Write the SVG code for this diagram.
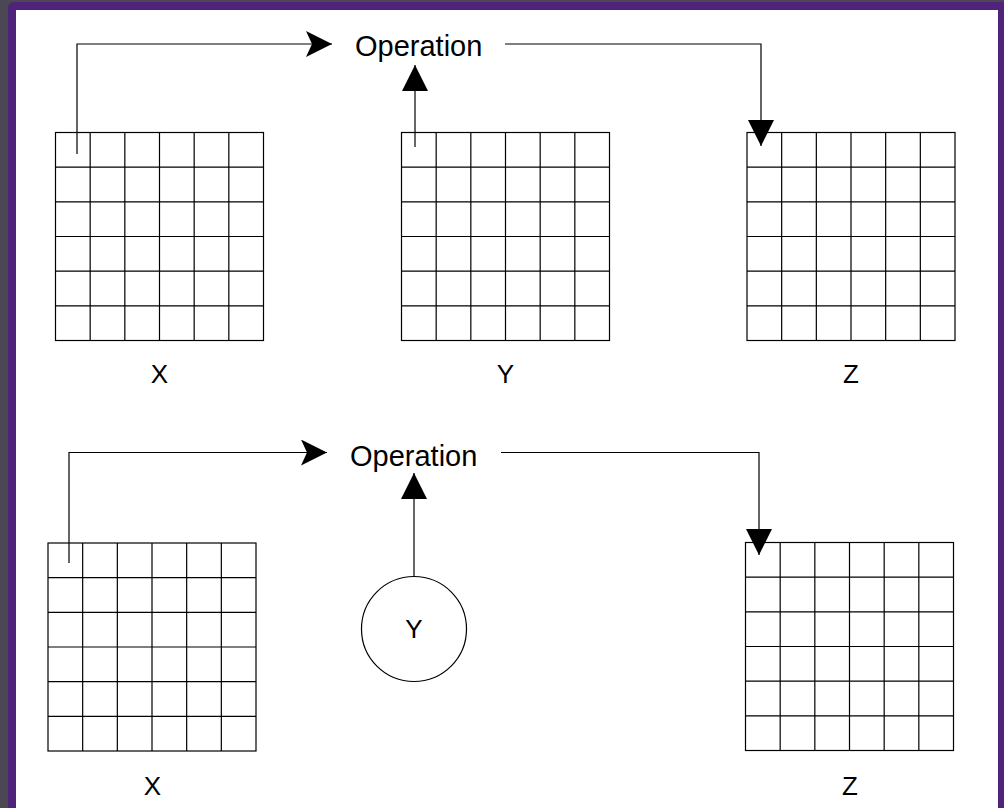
<svg xmlns="http://www.w3.org/2000/svg" xmlns:xlink="http://www.w3.org/1999/xlink" width="1004" height="808" viewBox="0 0 1004 808">
<style>
.lbl{font-family:"Liberation Sans",Arial,sans-serif;font-size:26px;fill:#000;text-anchor:middle}
.op{font-family:"Liberation Sans",Arial,sans-serif;font-size:29px;fill:#000}
.ln{fill:none;stroke:#000;stroke-width:1.2}
.grid{fill:#fff;stroke:#000;stroke-width:1.2}
</style>
<defs>
<marker id="classic" markerUnits="userSpaceOnUse" markerWidth="26" markerHeight="26" refX="26" refY="13" orient="auto" viewBox="0 0 26 26">
<path d="M0,0 L26,13 L0,26 L6,13 z" fill="#000"/>
</marker>
<marker id="block" markerUnits="userSpaceOnUse" markerWidth="26" markerHeight="26" refX="26" refY="13" orient="auto" viewBox="0 0 26 26">
<path d="M0,0 L26,13 L0,26 z" fill="#000"/>
</marker>
<g id="gridShape">
<rect class="grid" x="0" y="0" width="208" height="208"/>
<path class="ln" d="M34.67,0V208M69.33,0V208M104,0V208M138.67,0V208M173.33,0V208M0,34.67H208M0,69.33H208M0,104H208M0,138.67H208M0,173.33H208"/>
</g>
</defs>
<rect x="0" y="0" width="1004" height="808" fill="#4b4753"/>
<rect x="8" y="2" width="1004" height="820" rx="6" fill="#4f2379"/>
<rect x="16" y="10" width="982" height="810" fill="#fff"/>

<g id="top-x">
<use xlink:href="#gridShape" transform="translate(55.5,132.5)"/>
<text class="lbl" x="159.5" y="382.5">X</text>
</g>
<g id="top-y">
<use xlink:href="#gridShape" transform="translate(401.5,132.5)"/>
<text class="lbl" x="505.5" y="382.5">Y</text>
</g>
<g id="top-z">
<use xlink:href="#gridShape" transform="translate(747,132.5)"/>
<text class="lbl" x="851" y="382.5">Z</text>
</g>
<g id="top-op">
<text class="op" x="355" y="56">Operation</text>
</g>

<g id="bot-x">
<use xlink:href="#gridShape" transform="translate(48,543)"/>
<text class="lbl" x="152.5" y="795">X</text>
</g>
<g id="bot-y">
<circle cx="414" cy="629" r="52.5" fill="#fff" stroke="#000" stroke-width="1.2"/>
<text class="lbl" x="414" y="638">Y</text>
</g>
<g id="bot-z">
<use xlink:href="#gridShape" transform="translate(745.5,542.5)"/>
<text class="lbl" x="850" y="795">Z</text>
</g>
<g id="bot-op">
<text class="op" x="350" y="466">Operation</text>
</g>

<g id="connectors">
<path class="ln" d="M77,154 V44 H332" marker-end="url(#classic)"/>
<path class="ln" d="M415,147 V65" marker-end="url(#block)"/>
<path class="ln" d="M505,44 H761 V146" marker-end="url(#block)"/>
<path class="ln" d="M69,563 V452.5 H327" marker-end="url(#classic)"/>
<path class="ln" d="M414,576.5 V473" marker-end="url(#block)"/>
<path class="ln" d="M501,452.5 H759 V555" marker-end="url(#block)"/>
</g>
</svg>
